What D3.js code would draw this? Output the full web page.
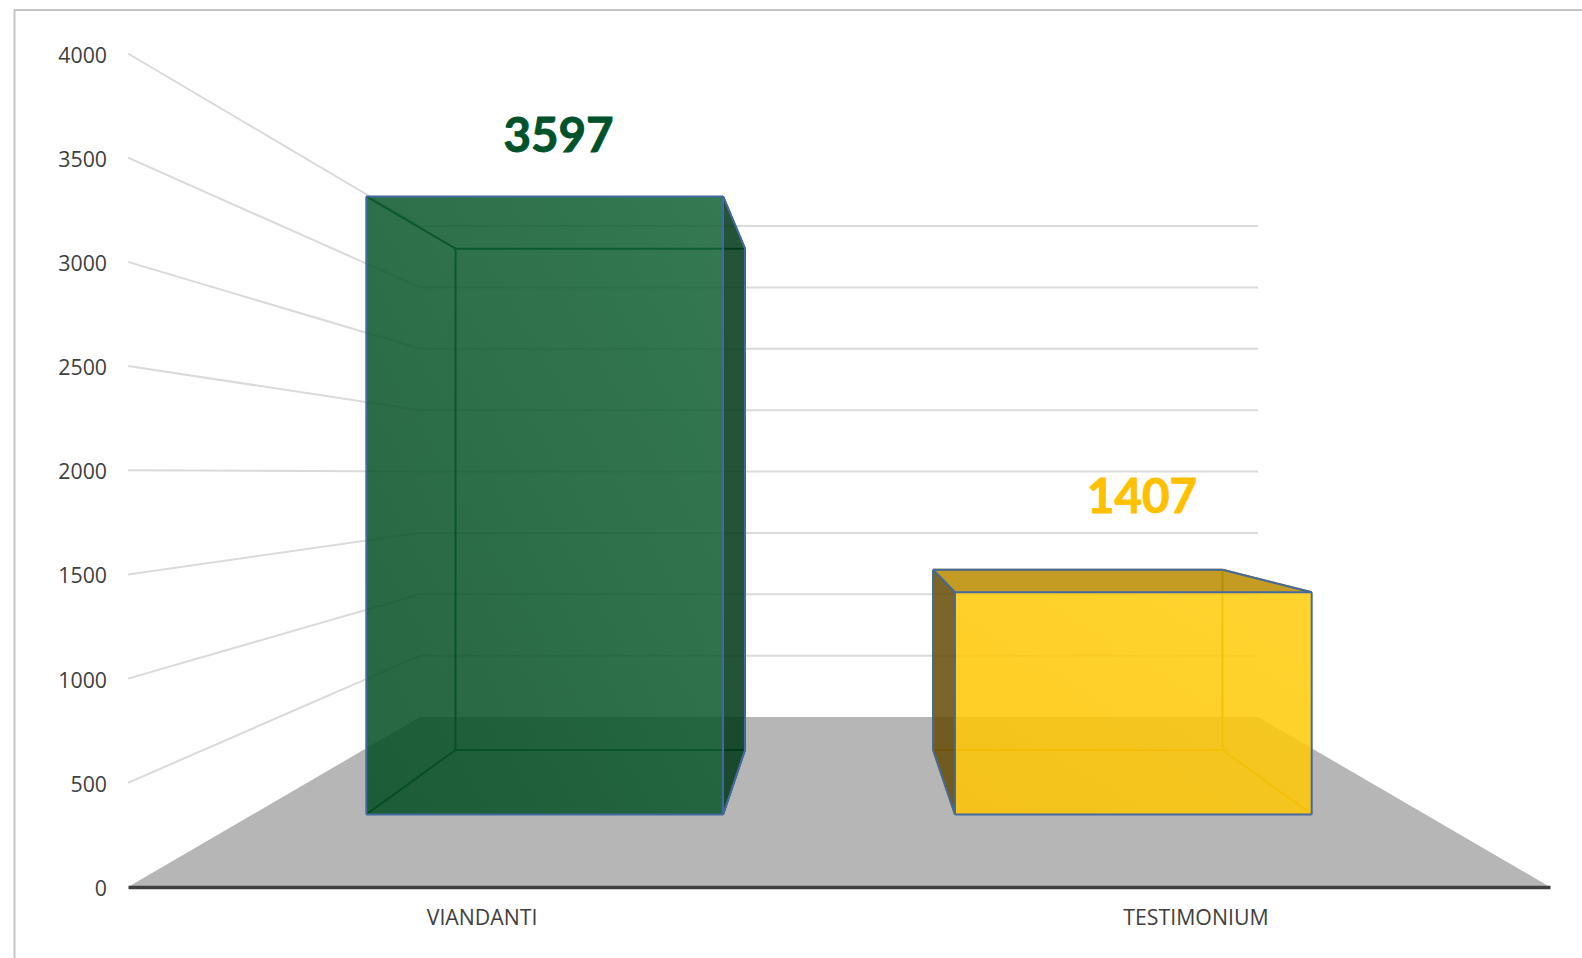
<!DOCTYPE html>
<html>
<head>
<meta charset="utf-8">
<style>
  html, body { margin: 0; padding: 0; background: #fff; }
  svg { display: block; }
  .tick text { font-family: "Open Sans", sans-serif; fill: #404040; }
</style>
<script src="https://cdn.jsdelivr.net/npm/d3@7"></script>
</head>
<body>
<div id="chart"></div>
<script>
'use strict';

const categories = ['VIANDANTI', 'TESTIMONIUM'];
// bar heights as drawn against the axis
const barValues = [3597, 1293];
// numbers written above the bars (the second one is higher than its bar)
const valueLabels = ['3597', '1407'];
const tickValues = [0, 500, 1000, 1500, 2000, 2500, 3000, 3500, 4000];

const colors = {
  frame: '#c6c6c6',
  grid: '#dadada',
  floor: '#b6b6b6',
  ground: '#404040',
  edge: '#44699e',
  text: '#404040',
};
const barStyles = [
  { label: '#00522a', from: '#034d22', to: '#126335', side: '#003817', top: '#003817', opacity: 0.86 },
  { label: '#ffc000', from: '#ffc400', to: '#ffcc0c', side: '#674c05', top: '#ba8c00', opacity: 0.86 },
];

const width = 1582, height = 958;
const left = 128, right = 1550;      // front of the floor
const backLeft = 420, backRight = 1258;
const frontDepth = 0.427, backDepth = 0.806;  // where the bars stand between front and back wall

const svg = d3.select('#chart').append('svg').attr('width', width).attr('height', height);

const yFront = d3.scaleLinear().domain([0, 4000]).range([887, 53.5]);
const yBack = d3.scaleLinear().domain([0, 4000]).range([717, 226]);
const xLeft = d3.scaleLinear().domain([0, 1]).range([left, backLeft]);
const xRight = d3.scaleLinear().domain([0, 1]).range([right, backRight]);
const band = d3.scaleBand().domain(categories).range([0, 1]).paddingInner(0.394).paddingOuter(0.193);
const xAxisScale = band.copy().range([left, right]);

// u across the floor, v the value, t the depth
function project(u, v, t) {
  const xa = xLeft(t), xb = xRight(t);
  const ya = yFront(v), yb = yBack(v);
  return [xa + u * (xb - xa), ya + t * (yb - ya)];
}

const line = d3.line();
const defs = svg.append('defs');

// chart frame, only top and left show in the crop
svg.append('path')
  .attr('d', line([[width, 10], [14.5, 10], [14.5, height]]))
  .attr('fill', 'none').attr('stroke', colors.frame).attr('stroke-width', 2);

// floor
svg.append('path')
  .attr('d', line([project(0, 0, 0), project(1, 0, 0), project(1, 0, 1), project(0, 0, 1)]) + 'Z')
  .attr('fill', colors.floor);

// wall lines
const gridValues = tickValues.filter(d => d > 0);
svg.append('g').selectAll('path')
  .data(gridValues)
  .enter().append('path')
  .attr('d', d => line([project(0, d, 0), project(0, d, 1), project(1, d, 1)]))
  .attr('fill', 'none')
  .attr('stroke', colors.grid)
  .attr('stroke-width', 2);

// axes
const yAxis = svg.append('g')
  .attr('transform', `translate(${left},0)`)
  .call(d3.axisLeft(yFront).tickValues(tickValues).tickFormat(d3.format('d')).tickSize(0).tickPadding(21));
yAxis.select('.domain').remove();
yAxis.selectAll('text').attr('font-size', 21.3).attr('dy', '0.40em');

const xAxis = svg.append('g')
  .attr('transform', `translate(0,${yFront(0)})`)
  .call(d3.axisBottom(xAxisScale).tickSize(0).tickSizeOuter(0).tickPadding(23));
xAxis.select('.domain').attr('stroke', colors.ground).attr('stroke-width', 3.6);
xAxis.selectAll('text').attr('font-size', 21.3);

// bars
categories.forEach((cat, i) => {
  const style = barStyles[i];
  const u0 = band(cat), u1 = u0 + band.bandwidth();
  const v = barValues[i];
  const fa = project(u0, 0, frontDepth), fb = project(u1, 0, frontDepth);
  const fc = project(u1, v, frontDepth), fd = project(u0, v, frontDepth);
  const ba = project(u0, 0, backDepth), bb = project(u1, 0, backDepth);
  const bc = project(u1, v, backDepth), bd = project(u0, v, backDepth);

  const g = svg.append('g');
  const edges = [[ba, bb], [bb, bc], [bc, bd], [bd, ba], [fa, ba], [fb, bb], [fc, bc], [fd, bd]];

  // edges behind the front face show through it
  g.selectAll('.back-edge')
    .data(edges)
    .enter().append('path')
    .attr('class', 'back-edge')
    .attr('d', d => line(d))
    .attr('fill', 'none')
    .attr('stroke', i === 0 ? '#0c4a33' : '#b08a10')
    .attr('stroke-width', 2);

  // the side face that sticks out of the front face
  const side = i === 0 ? [fb, bb, bc, fc] : [fa, ba, bd, fd];
  g.append('path')
    .attr('d', line(side) + 'Z')
    .attr('fill', style.side)
    .attr('fill-opacity', style.opacity);

  // top face is only visible when looking down on the bar
  if (bd[1] < fd[1]) {
    g.append('path')
      .attr('d', line([fd, bd, bc, fc]) + 'Z')
      .attr('fill', style.top)
      .attr('fill-opacity', style.opacity);
  }

  const grad = defs.append('linearGradient')
    .attr('id', 'front' + i)
    .attr('x1', 0).attr('y1', 1).attr('x2', 1).attr('y2', 0);
  grad.append('stop').attr('offset', 0).attr('stop-color', style.from);
  grad.append('stop').attr('offset', 1).attr('stop-color', style.to);

  g.append('path')
    .attr('d', line([fa, fb, fc, fd]) + 'Z')
    .attr('fill', `url(#front${i})`)
    .attr('fill-opacity', style.opacity);

  // outline on top
  const outline = [[fa, fb], [fb, fc], [fc, fd], [fd, fa]];
  if (i === 0) {
    outline.push([fc, bc], [bc, bb], [bb, fb]);
  } else {
    outline.push([fd, bd], [bd, bc], [bc, fc], [bd, ba], [ba, fa]);
  }
  g.selectAll('.edge')
    .data(outline)
    .enter().append('path')
    .attr('class', 'edge')
    .attr('d', d => line(d))
    .attr('fill', 'none')
    .attr('stroke', colors.edge)
    .attr('stroke-width', 2);
});

// value labels, placed by hand in the original
const labelPos = [{ x: 558.5, y: 135 }, { x: 1142, y: 496 }];
svg.append('g').selectAll('text')
  .data(valueLabels)
  .enter().append('text')
  .attr('x', (d, i) => labelPos[i].x)
  .attr('y', (d, i) => labelPos[i].y)
  .attr('dy', '0.35em')
  .attr('text-anchor', 'middle')
  .attr('font-family', 'Lato, sans-serif')
  .attr('font-weight', 700)
  .attr('font-size', 47.5)
  .attr('fill', (d, i) => barStyles[i].label)
  .attr('stroke', (d, i) => barStyles[i].label)
  .attr('stroke-width', 0.9)
  .text(d => d);
</script>
</body>
</html>
